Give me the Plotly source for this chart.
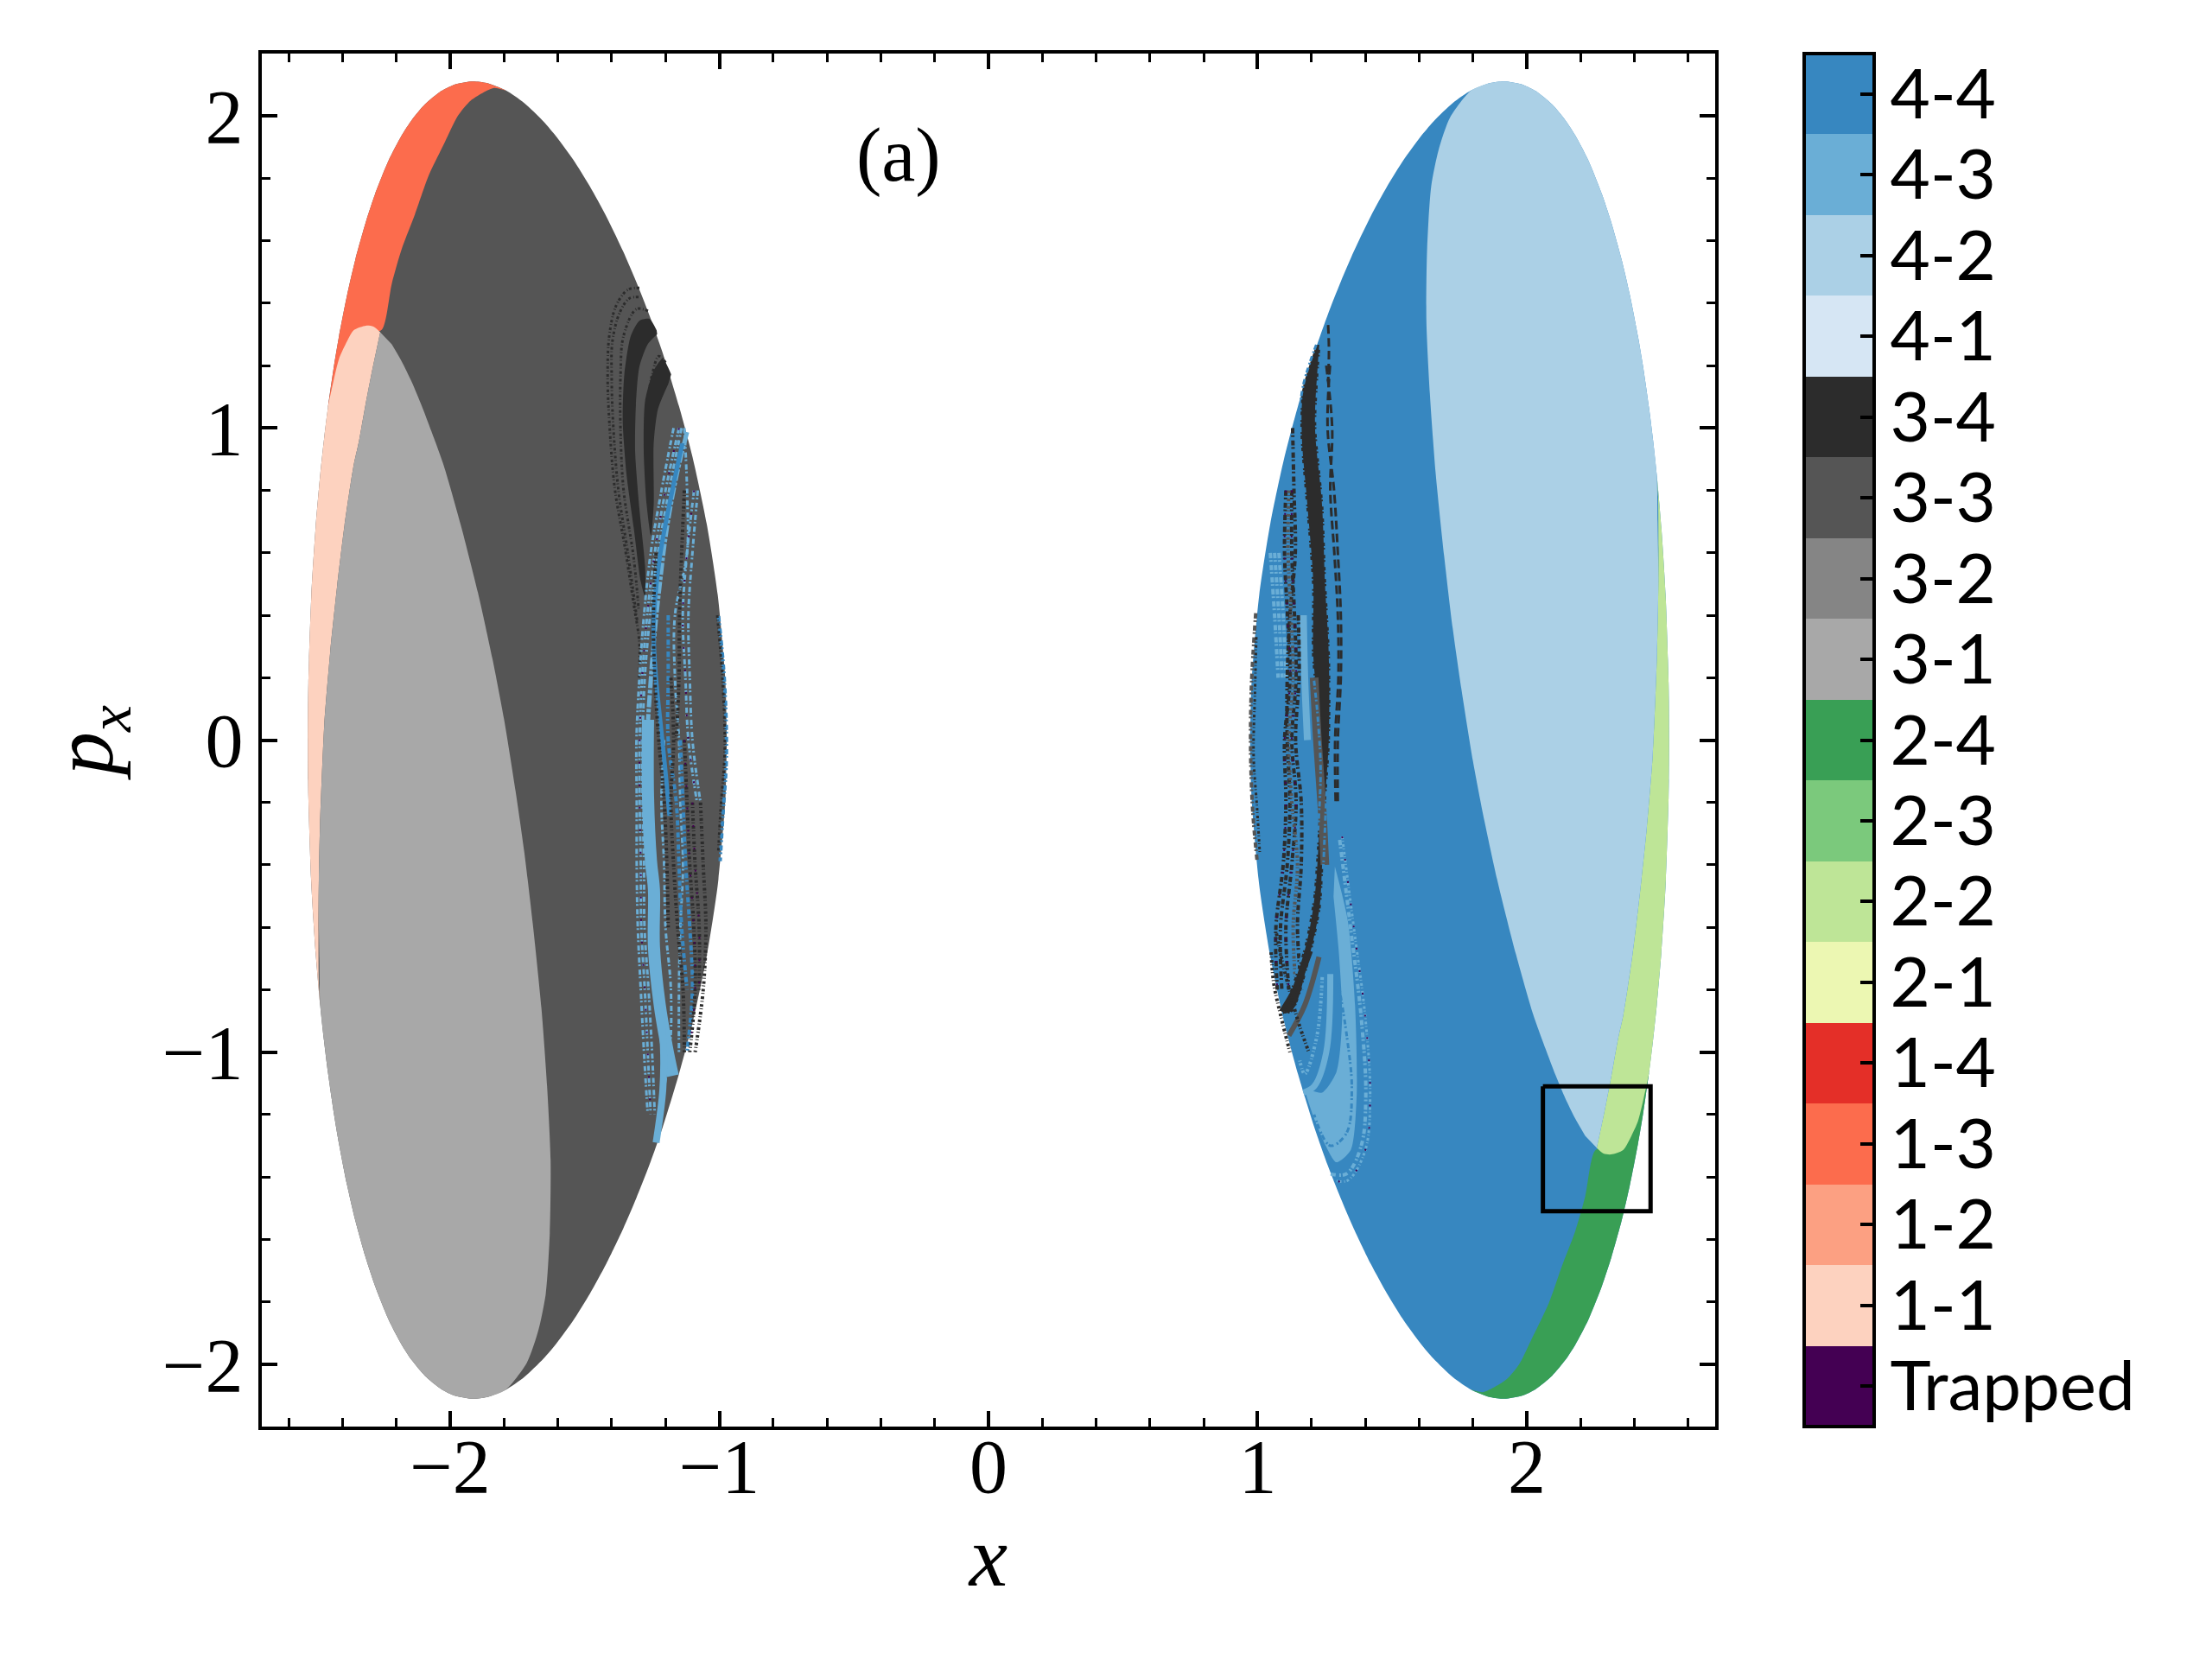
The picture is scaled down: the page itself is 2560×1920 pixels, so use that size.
import plotly.graph_objects as go

# classes on the colour bar, bottom to top
CLASS_LABELS = ["Trapped", "1-1", "1-2", "1-3", "1-4", "2-1", "2-2", "2-3", "2-4",
                "3-1", "3-2", "3-3", "3-4", "4-1", "4-2", "4-3", "4-4"]
CLASS_COLORS = ["#440053", "#fdd2bf", "#fca082", "#fc6c4d", "#e42f28", "#ecf7b2", "#bee597", "#7bc97c", "#399f55",
                "#a8a8a8", "#858585", "#555555", "#2c2c2c", "#d6e6f4", "#abd0e6", "#6aaed6", "#3787c0"]
COLOR = dict(zip(CLASS_LABELS, CLASS_COLORS))

# upper half of the left lobe boundary
OUTLINE_X = [-2.529, -2.528, -2.527, -2.516, -2.50, -2.483, -2.469, -2.454, -2.432, -2.413, -2.383, -2.352, -2.315, -2.279,
             -2.229, -2.18, -2.143, -2.094, -2.033, -1.98, -1.917, -1.865, -1.794, -1.726, -1.653, -1.604, -1.543,
             -1.481, -1.42, -1.358, -1.309, -1.26, -1.21, -1.15, -1.10, -1.047, -1.006, -0.98, -0.976, -0.972]
OUTLINE_Y = [0, 0.128, 0.183, 0.462, 0.682, 0.85, 0.963, 1.067, 1.198, 1.295, 1.427, 1.542, 1.656, 1.75,
             1.857, 1.938, 1.987, 2.037, 2.08, 2.102, 2.111, 2.106, 2.082, 2.042, 1.982, 1.932, 1.86,
             1.774, 1.678, 1.567, 1.469, 1.362, 1.239, 1.07, 0.908, 0.693, 0.465, 0.221, 0.157, 0]

# sliver between the boundary and the second basin (1-3 on the left, 2-4 on the right)
BAND_X = [-2.454, -2.432, -2.413, -2.383, -2.352, -2.315, -2.279, -2.229, -2.18, -2.143, -2.094, -2.033, -1.98, -1.917,
          -1.865, -1.794, -1.837, -1.923, -1.972, -2.02, -2.082, -2.131, -2.18, -2.217, -2.254, -2.313, -2.358]
BAND_Y = [1.067, 1.198, 1.295, 1.427, 1.542, 1.656, 1.75, 1.857, 1.938, 1.987, 2.037, 2.08, 2.102, 2.111,
          2.106, 2.082, 2.09, 2.05, 2.0, 1.916, 1.805, 1.685, 1.574, 1.463, 1.315, 1.30, 1.25]

# pale crescent (1-1 on the left, 2-2 on the right)
CRESCENT_X = [-2.26, -2.285, -2.313, -2.358, -2.389, -2.413, -2.432, -2.454, -2.469, -2.483, -2.50, -2.516, -2.527,
              -2.529, -2.527, -2.516, -2.50, -2.483, -2.488, -2.489, -2.484, -2.468, -2.446, -2.42, -2.393, -2.359,
              -2.34, -2.315, -2.29]
CRESCENT_Y = [1.307, 1.325, 1.328, 1.314, 1.268, 1.222, 1.157, 1.067, 0.963, 0.85, 0.682, 0.462, 0.183,
              0, -0.183, -0.462, -0.682, -0.85, -0.78, -0.511, -0.28, 0.048, 0.281, 0.494, 0.687, 0.88,
              0.954, 1.074, 1.185]

# big central basin (3-1 on the left, 4-2 on the right)
BASIN_X = [-2.26, -2.29, -2.315, -2.34, -2.359, -2.393, -2.42, -2.446, -2.468, -2.484, -2.489, -2.486, -2.483, -2.469,
           -2.454, -2.432, -2.413, -2.383, -2.352, -2.315, -2.279, -2.229, -2.18, -2.143, -2.094, -2.033, -1.98, -1.917,
           -1.865, -1.794, -1.715, -1.672, -1.645, -1.63, -1.627, -1.64, -1.661, -1.693, -1.725, -1.757, -1.80, -1.843,
           -1.897, -1.96, -2.024, -2.07, -2.107, -2.143, -2.18, -2.217]
BASIN_Y = [1.307, 1.185, 1.074, 0.954, 0.88, 0.687, 0.494, 0.281, 0.048, -0.28, -0.511, -0.70, -0.85, -0.963,
           -1.067, -1.198, -1.295, -1.427, -1.542, -1.656, -1.75, -1.857, -1.938, -1.987, -2.037, -2.08, -2.102, -2.111,
           -2.106, -2.082, -1.995, -1.89, -1.775, -1.58, -1.345, -1.11, -0.86, -0.59, -0.357, -0.164, 0.067, 0.26,
           0.473, 0.687, 0.88, 0.99, 1.074, 1.148, 1.213, 1.268]

# left lobe: solid dark patches
LEFT_DARK_A_X = [-1.233, -1.26, -1.297, -1.329, -1.353, -1.359, -1.345, -1.318, -1.292, -1.276, -1.276, -1.297, -1.313,
                 -1.31, -1.297, -1.265, -1.231]
LEFT_DARK_A_Y = [1.313, 1.35, 1.344, 1.295, 1.172, 1.024, 0.852, 0.68, 0.508, 0.459, 0.557, 0.741, 0.926,
                 1.074, 1.197, 1.27, 1.301]
LEFT_DARK_B_X = [-1.179, -1.211, -1.244, -1.276, -1.281, -1.27, -1.254, -1.244, -1.244, -1.228, -1.19]
LEFT_DARK_B_Y = [1.172, 1.221, 1.184, 1.086, 0.926, 0.754, 0.655, 0.754, 0.951, 1.061, 1.141]

# left lobe: arcs above the main filaments
LEFT_ARC1_X = [-1.297, -1.34, -1.383, -1.409, -1.415, -1.409, -1.388, -1.351, -1.318, -1.297, -1.299]
LEFT_ARC1_Y = [1.449, 1.443, 1.393, 1.295, 1.172, 1.024, 0.803, 0.618, 0.434, 0.311, 0.188]
LEFT_ARC1B_X = [-1.30, -1.335, -1.37, -1.397, -1.40, -1.395, -1.375, -1.34, -1.305]
LEFT_ARC1B_Y = [1.42, 1.415, 1.37, 1.28, 1.16, 1.02, 0.80, 0.60, 0.38]
LEFT_ARC2_X = [-1.265, -1.308, -1.356, -1.367, -1.367, -1.356, -1.318, -1.30]
LEFT_ARC2_Y = [1.375, 1.381, 1.295, 1.172, 0.987, 0.803, 0.582, 0.42]
LEFT_ARC3_X = [-1.20, -1.225, -1.25, -1.27]
LEFT_ARC3_Y = [1.21, 1.23, 1.17, 1.06]

# left lobe filaments, one x per row (None where the filament is absent)
LEFT_ROWS_Y = [1.0, 0.8, 0.6, 0.4, 0.2, 0, -0.2, -0.4, -0.6, -0.8, -1.0, -1.2]
LEFT_EDGE1_X = [-1.17, -1.215, -1.255, -1.28, -1.297, -1.308, -1.307, -1.307, -1.303, -1.292, -1.28, -1.266]
LEFT_EDGE2_X = [-1.15, -1.20, -1.24, -1.268, -1.287, -1.296, -1.296, -1.292, -1.29, -1.277, -1.266, -1.255]
LEFT_EDGE3_X = [-1.14, -1.187, -1.228, -1.257, -1.277, -1.285, -1.285, -1.28, -1.278, -1.263, -1.25, -1.24]
LEFT_DARK1_X = [None, None, None, None, -1.18, -1.17, -1.18, -1.17, -1.155, -1.135, -1.13, None]
LEFT_DARK2_X = [None, None, None, None, None, None, -1.10, -1.09, -1.075, -1.075, None, None]
LEFT_DARK3_X = [None, None, None, None, None, None, -1.07, -1.06, -1.05, -1.06, -1.09, None]
LEFT_DARK4_X = [None, None, None, None, None, -1.13, -1.12, -1.11, -1.095, -1.09, -1.11, None]
LEFT_DARK5_X = [None, -1.13, -1.14, -1.148, -1.15, -1.16, None, None, None, None, None, None]
LEFT_DARK6_X = [None, None, -1.235, -1.245, -1.24, -1.225, -1.205, -1.195, -1.19, None, None, None]
LEFT_DEEP1_X = [None, None, None, None, None, -1.145, -1.135, -1.125, -1.11, -1.10, -1.12, None]
LEFT_DEEP2_X = [None, None, None, -1.19, -1.19, -1.19, -1.16, -1.15, -1.14, -1.12, None, None]
LEFT_PALE1_X = [None, -1.094, -1.12, -1.136, -1.126, -1.115, -1.083, None, None, None, None, None]
LEFT_PALE2_X = [None, -1.08, -1.10, -1.115, -1.11, -1.10, -1.07, None, None, None, None, None]
LEFT_PALE3_X = [-1.13, -1.12, -1.12, -1.165, -1.165, -1.15, -1.145, -1.135, -1.145, -1.15, -1.15, None]
LEFT_PALE4_X = [None, None, None, None, None, -1.205, -1.215, -1.205, -1.20, -1.18, -1.185, -1.225]

LEFT_MAIN_UP_X = [-1.12, -1.158, -1.195, -1.222, -1.244, -1.265]
LEFT_MAIN_UP_Y = [0.987, 0.852, 0.68, 0.495, 0.311, 0.065]
LEFT_MAIN_LOW_X = [-1.265, -1.265, -1.254, -1.243, -1.243, -1.222, -1.195, -1.173]
LEFT_MAIN_LOW_Y = [0.065, -0.181, -0.388, -0.479, -0.663, -0.846, -0.984, -1.076]
LEFT_TAIL_X = [-1.222, -1.208, -1.21, -1.235]
LEFT_TAIL_Y = [-0.846, -0.98, -1.12, -1.29]
LEFT_DEEP_X = [-1.137, -1.174, -1.222, -1.244, -1.238, -1.217, -1.201, -1.185]
LEFT_DEEP_Y = [0.951, 0.803, 0.582, 0.372, 0.225, 0.04, -0.095, -0.243]
LEFT_STRIP1_X = [-1.003, -0.981, -0.974, -0.987, -0.997]
LEFT_STRIP1_Y = [0.397, 0.188, -0.058, -0.243, -0.388]
LEFT_STRIP2_X = [-1.008, -0.988, -0.98, -0.995, -1.004]
LEFT_STRIP2_Y = [0.40, 0.19, -0.03, -0.22, -0.36]

# right lobe: solid dark band and the pale blue bulge below it
RIGHT_DARK_X = [1.218, 1.166, 1.159, 1.18, 1.202, 1.202, 1.223, 1.234, 1.223, 1.207, 1.175, 1.111, 1.095,
                1.132, 1.196, 1.234, 1.244, 1.255, 1.269, 1.269, 1.255, 1.244, 1.218, 1.228, 1.234]
RIGHT_DARK_Y = [1.267, 1.122, 0.986, 0.754, 0.503, 0.271, 0.078, -0.096, -0.309, -0.502, -0.657, -0.831, -0.879,
                -0.869, -0.695, -0.541, -0.405, -0.193, 0.0, 0.271, 0.503, 0.754, 1.006, 1.199, 1.267]
RIGHT_BULGE_X = [1.287, 1.335, 1.362, 1.368, 1.346, 1.293, 1.25, 1.196, 1.18, 1.239, 1.293, 1.314, 1.303, 1.282]
RIGHT_BULGE_Y = [-0.405, -0.579, -0.85, -1.14, -1.314, -1.353, -1.295, -1.179, -1.121, -1.13, -1.063, -0.889, -0.695, -0.502]

# right lobe filaments, one x per row
RIGHT_ROWS_Y = [1.2, 1.0, 0.8, 0.6, 0.4, 0.2, 0, -0.2, -0.4, -0.6, -0.8, -1.0]
RIGHT_COL1_X = [1.269, 1.26, 1.284, 1.298, 1.309, 1.309, 1.298, 1.298, None, None, None, None]
RIGHT_COL2_X = [1.255, 1.277, 1.27, 1.285, 1.298, 1.30, 1.288, 1.29, None, None, None, None]
RIGHT_COL_TOP_X = [1.262, 1.265, 1.262]
RIGHT_COL_TOP_Y = [1.33, 1.25, 1.15]
RIGHT_MOT1_X = [None, None, 1.105, 1.10, 1.111, 1.121, 1.10, 1.105, 1.095, 1.068, 1.073, None]
RIGHT_MOT2_X = [None, None, 1.127, 1.127, 1.137, 1.143, 1.127, 1.143, 1.127, 1.105, 1.116, None]
RIGHT_MOT3_X = [None, None, 1.116, 1.113, 1.124, 1.132, 1.116, 1.127, 1.148, 1.132, 1.143, None]
RIGHT_MOT4_X = [None, None, None, None, 1.151, 1.154, 1.141, 1.162, 1.162, 1.148, 1.164, None]
RIGHT_MOT5_X = [None, 1.13, 1.135, 1.14, 1.12, 1.11, 1.11, 1.12, 1.11, 1.085, 1.09, None]
RIGHT_PALE1_X = [None, None, None, 1.047, 1.063, 1.076, None, None, None, None, None, None]
RIGHT_PALE2_X = [None, None, None, 1.063, 1.079, 1.091, None, None, None, None, None, None]
RIGHT_PALE3_X = [None, None, None, 1.079, 1.095, 1.105, None, None, None, None, None, None]
RIGHT_PALE4_X = [None, None, None, None, 1.17, 1.175, 1.185, None, None, None, None, None]
RIGHT_GREY_X = [None, None, None, None, None, 1.21, 1.222, 1.238, 1.25, None, None, None]

RIGHT_STRIP1_X = [0.993, 0.977, 0.974, 0.982, 0.998]
RIGHT_STRIP1_Y = [0.407, 0.175, -0.038, -0.231, -0.386]
RIGHT_STRIP2_X = [0.995, 0.99, 0.985, 0.998, 1.008]
RIGHT_STRIP2_Y = [0.33, 0.15, -0.05, -0.22, -0.36]
RIGHT_HOOK1_X = [1.089, 1.143, 1.196]
RIGHT_HOOK1_Y = [-0.87, -0.79, -0.676]
RIGHT_HOOK2_X = [1.116, 1.175, 1.228]
RIGHT_HOOK2_Y = [-0.947, -0.85, -0.695]
RIGHT_HOOK3_X = [1.05, 1.06, 1.085, 1.12]
RIGHT_HOOK3_Y = [-0.68, -0.78, -0.88, -1.0]
RIGHT_HOOK4_X = [1.07, 1.10, 1.15, 1.19]
RIGHT_HOOK4_Y = [-0.62, -0.74, -0.9, -1.0]
RIGHT_ARC_X = [1.314, 1.357, 1.40, 1.418, 1.40, 1.335, 1.282]
RIGHT_ARC_Y = [-0.309, -0.599, -0.889, -1.14, -1.314, -1.411, -1.411]
RIGHT_ARC2_X = [1.305, 1.345, 1.385, 1.402, 1.385, 1.33, 1.27]
RIGHT_ARC2_Y = [-0.32, -0.60, -0.89, -1.14, -1.30, -1.39, -1.39]
RIGHT_ARC_IN_X = [1.30, 1.33, 1.35, 1.33, 1.27, 1.21]
RIGHT_ARC_IN_Y = [-0.78, -0.94, -1.12, -1.26, -1.30, -1.2]
RIGHT_LOW1_X = [1.24, 1.22, 1.175, 1.155]
RIGHT_LOW1_Y = [-0.76, -0.95, -1.07, -1.02]
RIGHT_LOW2_X = [1.27, 1.255, 1.21, 1.17]
RIGHT_LOW2_Y = [-0.75, -1.00, -1.11, -1.13]

# inset rectangle
BOX_X = [2.06, 2.46, 2.46, 2.06, 2.06]
BOX_Y = [-1.11, -1.11, -1.51, -1.51, -1.11]


def add_region(fig, x, y, color):
    fig.add_trace(go.Scatter(x=x, y=y, mode="lines", fill="toself", fillcolor=color,
                             line=dict(width=0, shape="spline", smoothing=0.7),
                             hoverinfo="skip", showlegend=False))


def add_strand(fig, x, y, label, width, dash="solid"):
    fig.add_trace(go.Scatter(x=x, y=y, mode="lines", line=dict(color=COLOR[label], width=width, dash=dash, shape="spline"),
                             hoverinfo="skip", showlegend=False))


fig = go.Figure()

outline_x = OUTLINE_X + OUTLINE_X[::-1]
outline_y = OUTLINE_Y + [-v for v in OUTLINE_Y[::-1]]

# the right lobe repeats the left lobe turned through the origin
for sign, base, band, crescent, basin in [(1, "3-3", "1-3", "1-1", "3-1"), (-1, "4-4", "2-4", "2-2", "4-2")]:
    add_region(fig, [sign * v for v in outline_x], [sign * v for v in outline_y], COLOR[base])
    add_region(fig, [sign * v for v in BAND_X], [sign * v for v in BAND_Y], COLOR[band])
    add_region(fig, [sign * v for v in CRESCENT_X], [sign * v for v in CRESCENT_Y], COLOR[crescent])
    add_region(fig, [sign * v for v in BASIN_X], [sign * v for v in BASIN_Y], COLOR[basin])

SPECK = "3px,2px,1px,3px"
GAPPY = "6px,2px,2px,4px"
TRAP = "2px,24px"

# left lobe filaments
for arc_x, arc_y in [(LEFT_ARC1_X, LEFT_ARC1_Y), (LEFT_ARC1B_X, LEFT_ARC1B_Y), (LEFT_ARC2_X, LEFT_ARC2_Y), (LEFT_ARC3_X, LEFT_ARC3_Y)]:
    add_strand(fig, arc_x, arc_y, "3-4", 3, SPECK)
add_region(fig, LEFT_DARK_A_X, LEFT_DARK_A_Y, COLOR["3-4"])
add_region(fig, LEFT_DARK_B_X, LEFT_DARK_B_Y, COLOR["3-4"])
for column in [LEFT_EDGE1_X, LEFT_EDGE2_X, LEFT_EDGE3_X, LEFT_PALE1_X, LEFT_PALE2_X, LEFT_PALE3_X, LEFT_PALE4_X]:
    add_strand(fig, column, LEFT_ROWS_Y, "4-3", 3, GAPPY)
add_strand(fig, LEFT_MAIN_UP_X, LEFT_MAIN_UP_Y, "4-3", 5, "14px,2px,4px,2px")
add_strand(fig, LEFT_MAIN_LOW_X, LEFT_MAIN_LOW_Y, "4-3", 14)
add_strand(fig, LEFT_TAIL_X, LEFT_TAIL_Y, "4-3", 8)
add_strand(fig, LEFT_DEEP_X, LEFT_DEEP_Y, "4-4", 5)
for column in [LEFT_DEEP1_X, LEFT_DEEP2_X]:
    add_strand(fig, column, LEFT_ROWS_Y, "4-4", 4, GAPPY)
for column in [LEFT_DARK1_X, LEFT_DARK2_X, LEFT_DARK3_X, LEFT_DARK4_X, LEFT_DARK5_X, LEFT_DARK6_X]:
    add_strand(fig, column, LEFT_ROWS_Y, "3-4", 4, SPECK)
add_strand(fig, LEFT_STRIP1_X, LEFT_STRIP1_Y, "4-4", 4, GAPPY)
add_strand(fig, LEFT_STRIP2_X, LEFT_STRIP2_Y, "3-4", 3, SPECK)
for column in [LEFT_EDGE2_X, LEFT_PALE1_X, LEFT_DARK2_X, LEFT_DARK4_X]:
    add_strand(fig, column, LEFT_ROWS_Y, "Trapped", 2, TRAP)

# right lobe filaments
for column in [RIGHT_PALE1_X, RIGHT_PALE2_X, RIGHT_PALE3_X]:
    add_strand(fig, column, RIGHT_ROWS_Y, "4-3", 4, GAPPY)
add_strand(fig, RIGHT_PALE4_X, RIGHT_ROWS_Y, "4-3", 8)
for column in [RIGHT_MOT1_X, RIGHT_MOT2_X, RIGHT_MOT4_X, RIGHT_MOT5_X]:
    add_strand(fig, column, RIGHT_ROWS_Y, "3-4", 4, GAPPY)
add_strand(fig, RIGHT_MOT3_X, RIGHT_ROWS_Y, "3-3", 4, SPECK)
add_region(fig, RIGHT_DARK_X, RIGHT_DARK_Y, COLOR["3-4"])
add_strand(fig, RIGHT_GREY_X, RIGHT_ROWS_Y, "3-3", 10)
add_strand(fig, RIGHT_DARK_X, RIGHT_DARK_Y, "4-4", 3, GAPPY)
for column in [RIGHT_COL1_X, RIGHT_COL2_X]:
    add_strand(fig, column, RIGHT_ROWS_Y, "3-4", 3, "10px,5px")
add_strand(fig, RIGHT_COL_TOP_X, RIGHT_COL_TOP_Y, "3-4", 3, "10px,5px")
add_strand(fig, RIGHT_STRIP1_X, RIGHT_STRIP1_Y, "3-3", 4, GAPPY)
add_strand(fig, RIGHT_STRIP2_X, RIGHT_STRIP2_Y, "3-4", 3, SPECK)
add_strand(fig, RIGHT_HOOK1_X, RIGHT_HOOK1_Y, "3-4", 6)
add_strand(fig, RIGHT_HOOK2_X, RIGHT_HOOK2_Y, "3-3", 6)
add_strand(fig, RIGHT_HOOK3_X, RIGHT_HOOK3_Y, "3-4", 4, SPECK)
add_strand(fig, RIGHT_HOOK4_X, RIGHT_HOOK4_Y, "3-4", 4, SPECK)
add_region(fig, RIGHT_BULGE_X, RIGHT_BULGE_Y, COLOR["4-3"])
add_strand(fig, RIGHT_ARC_X, RIGHT_ARC_Y, "4-3", 3, SPECK)
add_strand(fig, RIGHT_ARC2_X, RIGHT_ARC2_Y, "4-3", 4, GAPPY)
add_strand(fig, RIGHT_ARC_IN_X, RIGHT_ARC_IN_Y, "4-4", 3, GAPPY)
add_strand(fig, RIGHT_LOW1_X, RIGHT_LOW1_Y, "4-3", 4, SPECK)
add_strand(fig, RIGHT_LOW2_X, RIGHT_LOW2_Y, "4-3", 7)
add_strand(fig, RIGHT_ARC_X, RIGHT_ARC_Y, "Trapped", 2, TRAP)
add_strand(fig, RIGHT_MOT1_X, RIGHT_ROWS_Y, "Trapped", 2, TRAP)
add_strand(fig, RIGHT_MOT2_X, RIGHT_ROWS_Y, "Trapped", 2, TRAP)

fig.add_trace(go.Scatter(x=BOX_X, y=BOX_Y, mode="lines", line=dict(color="black", width=5),
                         hoverinfo="skip", showlegend=False))

# colour bar with one even step per class
n_classes = len(CLASS_LABELS)
colorscale = []
for i, c in enumerate(CLASS_COLORS):
    colorscale.append([i / n_classes, c])
    colorscale.append([(i + 1) / n_classes, c])

fig.add_trace(go.Scatter(
    x=[None] * n_classes, y=[None] * n_classes, mode="markers", hoverinfo="skip", showlegend=False,
    marker=dict(color=list(range(n_classes)), colorscale=colorscale, cmin=-0.5, cmax=n_classes - 0.5,
                colorbar=dict(x=1.0615, xanchor="left", y=0.5, yanchor="middle", len=1, lenmode="fraction",
                              thickness=81, thicknessmode="pixels", xpad=0, ypad=0,
                              outlinewidth=4, outlinecolor="black",
                              tickmode="array", tickvals=list(range(n_classes)), ticktext=CLASS_LABELS,
                              ticks="inside", ticklen=18, tickwidth=4, tickcolor="black",
                              tickfont=dict(family="Lato", size=80, color="black"))),
))

fig.add_annotation(x=-0.334, y=1.876, text="(a)", showarrow=False, xanchor="center", yanchor="middle",
                   font=dict(family="Liberation Serif", size=88, color="black"))

axis_style = dict(showline=True, linewidth=4, linecolor="black", mirror="allticks", showgrid=False, zeroline=False,
                  ticks="inside", ticklen=18, tickwidth=4, tickcolor="black", tick0=0, dtick=1,
                  minor=dict(dtick=0.2, tick0=0, ticks="inside", ticklen=10, tickwidth=3, tickcolor="black"),
                  tickfont=dict(family="Liberation Serif", size=88, color="black"))

fig.update_layout(
    width=2552, height=1912, autosize=False,
    margin=dict(l=295, r=575, t=54, b=269),
    paper_bgcolor="white", plot_bgcolor="white",
    xaxis=dict(range=[-2.7, 2.7], ticklabelstandoff=-34,
               title=dict(text="<i>x</i>", font=dict(family="Liberation Serif", size=100, color="black"), standoff=4),
               **axis_style),
    yaxis=dict(range=[-2.2, 2.2],
               title=dict(text="<i>p<sub>x</sub></i>", font=dict(family="Liberation Serif", size=100, color="black"), standoff=25),
               **axis_style),
)

fig.write_html("out.html")
